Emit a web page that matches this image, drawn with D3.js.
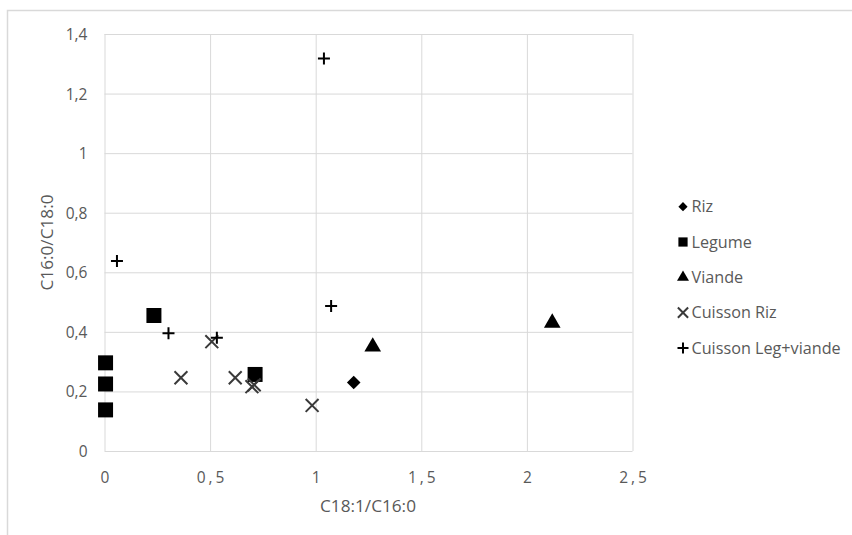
<!DOCTYPE html>
<html><head><meta charset="utf-8">
<script src="https://cdn.jsdelivr.net/npm/d3@7"></script>
<style>body{margin:0;background:#fff}svg{display:block}text{font-family:"Open Sans","Noto Sans",sans-serif}</style>
</head><body><svg id="c" width="852" height="535"></svg>
<script>
const seriesNames = ["Riz","Legume","Viande","Cuisson Riz","Cuisson Leg+viande"];
const rizX = [1.18], rizY = [0.23];
const legumeX = [0.005, 0.005, 0.005, 0.234, 0.713], legumeY = [0.296, 0.225, 0.138, 0.455, 0.257];
const viandeX = [1.27, 2.12], viandeY = [0.35, 0.43];
const cuissonRizX = [0.362, 0.508, 0.619, 0.698, 0.709, 0.983], cuissonRizY = [0.246, 0.367, 0.246, 0.216, 0.222, 0.153];
const cuissonLegX = [0.059, 0.303, 0.532, 1.039, 1.073], cuissonLegY = [0.638, 0.395, 0.380, 1.318, 0.487];
const xTicks = [0, 0.5, 1, 1.5, 2, 2.5], xTickLabels = ["0","0,5","1","1,5","2","2,5"];
const yTicks = [0, 0.2, 0.4, 0.6, 0.8, 1, 1.2, 1.4], yTickLabels = ["0","0,2","0,4","0,6","0,8","1","1,2","1,4"];

const svg = d3.select("#c");
const x = d3.scaleLinear().domain([0, 2.5]).range([104.5, 632.5]);
const y = d3.scaleLinear().domain([0, 1.4]).range([451, 34]);
const grid = "#d9d9d9", txt = "#595959";

svg.append("rect").attr("x",7.5).attr("y",10.5).attr("width",1000).attr("height",1000).attr("fill","none").attr("stroke",grid).attr("stroke-width",1.5);

const gx = svg.append("g").attr("transform","translate(0,451)")
  .call(d3.axisBottom(x).tickValues(xTicks).tickSize(-(451-34)).tickFormat((d,i)=>xTickLabels[i]));
gx.select(".domain").remove();
gx.selectAll("line").attr("stroke",grid);
gx.selectAll("text").attr("fill",txt).attr("font-size",15.5).attr("dy",0).attr("y",32).attr("dx",1.5).style("letter-spacing","3px");

const gy = svg.append("g").attr("transform","translate(104.5,0)")
  .call(d3.axisLeft(y).tickValues(yTicks).tickSize(-(632.5-104.5)).tickFormat((d,i)=>yTickLabels[i]));
gy.select(".domain").remove();
gy.selectAll("line").attr("stroke",grid);
gy.selectAll("text").attr("fill",txt).attr("font-size",15.5).attr("x",-17).attr("dy","0.35em");

svg.append("text").attr("x",368).attr("y",512).attr("text-anchor","middle").attr("fill",txt).attr("font-size",17.2).text("C18:1/C16:0");
svg.append("text").attr("transform","translate(53,242.5) rotate(-90)").attr("text-anchor","middle").attr("fill",txt).attr("font-size",17.2).text("C16:0/C18:0");

const series = [
  {name:seriesNames[0], xs:rizX, ys:rizY, mode:"diamond", color:"#000", r:6.8, lr:4.6},
  {name:seriesNames[1], xs:legumeX, ys:legumeY, type:d3.symbolSquare, size:225, mode:"fill", color:"#000", lsize:85},
  {name:seriesNames[2], xs:viandeX, ys:viandeY, type:d3.symbolTriangle, size:120, mode:"fill", color:"#000", lsize:62},
  {name:seriesNames[3], xs:cuissonRizX, ys:cuissonRizY, type:d3.symbolTimes, size:110, mode:"stroke", color:"#3a3a3a", lsize:70},
  {name:seriesNames[4], xs:cuissonLegX, ys:cuissonLegY, mode:"plus", color:"#000"}
];

function drawMarker(g, s, cx, cy, legend){
  if (s.mode === "plus") {
    const h = legend ? 5.5 : 6;
    g.append("path").attr("d",`M${cx-h},${cy}H${cx+h}M${cx},${cy-h}V${cy+h}`).attr("stroke",s.color).attr("stroke-width",2).attr("fill","none");
    return;
  }
  if (s.mode === "diamond") {
    const r = legend ? s.lr : s.r;
    g.append("path").attr("d",`M${cx},${cy-r}L${cx+r},${cy}L${cx},${cy+r}L${cx-r},${cy}Z`).attr("fill",s.color);
    return;
  }
  const p = g.append("path").attr("d", d3.symbol().type(s.type).size(legend ? s.lsize : s.size)()).attr("transform",`translate(${cx},${cy})`);
  if (s.mode === "fill") p.attr("fill", s.color);
  else p.attr("fill","none").attr("stroke", s.color).attr("stroke-width", 2);
}

const marks = svg.append("g");
series.forEach(s => s.xs.forEach((v,i) => drawMarker(marks, s, x(v), y(s.ys[i]), false)));

const lg = svg.append("g");
series.forEach((s,i) => {
  const cy = 206.7 + i*35.3;
  drawMarker(lg, s, 683, cy, true);
  lg.append("text").attr("x",691.5).attr("y",cy).attr("dy","0.35em").attr("fill",txt).attr("font-size",16.2).text(s.name);
});
</script></body></html>
